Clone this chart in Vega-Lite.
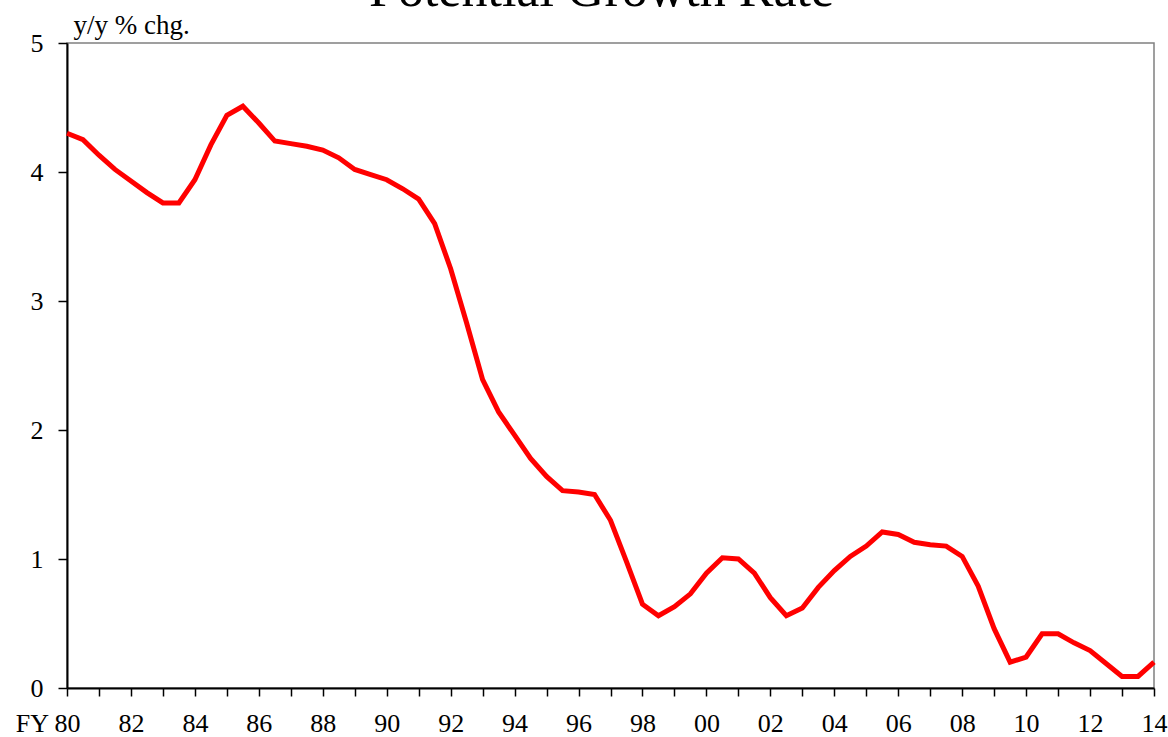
{
  "$schema": "https://vega.github.io/schema/vega-lite/v6.json",
  "width": 1087,
  "height": 645,
  "autosize": {"type": "none"},
  "padding": {"left": 67, "top": 43, "right": 14, "bottom": 49},
  "background": "white",
  "title": {
    "text": "Potential Growth Rate",
    "font": "Liberation Serif",
    "fontSize": 52,
    "fontWeight": "normal",
    "color": "black",
    "anchor": "middle",
    "frame": "group",
    "baseline": "alphabetic",
    "offset": 0,
    "dx": -9,
    "dy": 47
  },
  "config": {
    "view": {"stroke": "#808080", "strokeWidth": 1.5},
    "axis": {
      "labelFont": "Liberation Serif",
      "titleFont": "Liberation Serif",
      "labelColor": "black",
      "titleColor": "black",
      "domainColor": "black",
      "tickColor": "black",
      "grid": false
    }
  },
  "data": {
    "values": [
      {"year": 1980.0, "value": 4.30},
      {"year": 1980.5, "value": 4.25},
      {"year": 1981.0, "value": 4.13},
      {"year": 1981.5, "value": 4.02},
      {"year": 1982.0, "value": 3.93},
      {"year": 1982.5, "value": 3.84},
      {"year": 1983.0, "value": 3.76},
      {"year": 1983.5, "value": 3.76},
      {"year": 1984.0, "value": 3.94},
      {"year": 1984.5, "value": 4.21},
      {"year": 1985.0, "value": 4.44},
      {"year": 1985.5, "value": 4.51},
      {"year": 1986.0, "value": 4.38},
      {"year": 1986.5, "value": 4.24},
      {"year": 1987.0, "value": 4.22},
      {"year": 1987.5, "value": 4.20},
      {"year": 1988.0, "value": 4.17},
      {"year": 1988.5, "value": 4.11},
      {"year": 1989.0, "value": 4.02},
      {"year": 1989.5, "value": 3.98},
      {"year": 1990.0, "value": 3.94},
      {"year": 1990.5, "value": 3.87},
      {"year": 1991.0, "value": 3.79},
      {"year": 1991.5, "value": 3.60},
      {"year": 1992.0, "value": 3.25},
      {"year": 1992.5, "value": 2.83},
      {"year": 1993.0, "value": 2.39},
      {"year": 1993.5, "value": 2.14},
      {"year": 1994.0, "value": 1.96},
      {"year": 1994.5, "value": 1.78},
      {"year": 1995.0, "value": 1.64},
      {"year": 1995.5, "value": 1.53},
      {"year": 1996.0, "value": 1.52},
      {"year": 1996.5, "value": 1.50},
      {"year": 1997.0, "value": 1.30},
      {"year": 1997.5, "value": 0.98},
      {"year": 1998.0, "value": 0.65},
      {"year": 1998.5, "value": 0.56},
      {"year": 1999.0, "value": 0.63},
      {"year": 1999.5, "value": 0.73},
      {"year": 2000.0, "value": 0.89},
      {"year": 2000.5, "value": 1.01},
      {"year": 2001.0, "value": 1.00},
      {"year": 2001.5, "value": 0.89},
      {"year": 2002.0, "value": 0.70},
      {"year": 2002.5, "value": 0.56},
      {"year": 2003.0, "value": 0.62},
      {"year": 2003.5, "value": 0.78},
      {"year": 2004.0, "value": 0.91},
      {"year": 2004.5, "value": 1.02},
      {"year": 2005.0, "value": 1.10},
      {"year": 2005.5, "value": 1.21},
      {"year": 2006.0, "value": 1.19},
      {"year": 2006.5, "value": 1.13},
      {"year": 2007.0, "value": 1.11},
      {"year": 2007.5, "value": 1.10},
      {"year": 2008.0, "value": 1.02},
      {"year": 2008.5, "value": 0.79},
      {"year": 2009.0, "value": 0.46},
      {"year": 2009.5, "value": 0.20},
      {"year": 2010.0, "value": 0.24},
      {"year": 2010.5, "value": 0.42},
      {"year": 2011.0, "value": 0.42},
      {"year": 2011.5, "value": 0.35},
      {"year": 2012.0, "value": 0.29},
      {"year": 2012.5, "value": 0.19},
      {"year": 2013.0, "value": 0.09},
      {"year": 2013.5, "value": 0.09},
      {"year": 2014.0, "value": 0.20}
    ]
  },
  "mark": {"type": "line", "color": "#FF0000", "strokeWidth": 5, "strokeJoin": "miter", "clip": false},
  "encoding": {
    "x": {
      "field": "year",
      "type": "quantitative",
      "scale": {"domain": [1980, 2014], "nice": false, "zero": false},
      "axis": {
        "title": null,
        "values": [1980,1981,1982,1983,1984,1985,1986,1987,1988,1989,1990,1991,1992,1993,1994,1995,1996,1997,1998,1999,2000,2001,2002,2003,2004,2005,2006,2007,2008,2009,2010,2011,2012,2013,2014],
        "labelExpr": "datum.value % 2 != 0 ? '' : (datum.value == 1980 ? 'FY 80' : substring(toString(datum.value), 2))",
        "labelAlign": {"condition": {"test": "datum.value == 1980", "value": "right"}, "value": "center"},
        "labelOffset": {"condition": {"test": "datum.value == 1980", "value": 13}, "value": 0},
        "labelFontSize": 26,
        "labelPadding": 14,
        "labelFlush": false,
        "labelOverlap": false,
        "labelBound": false,
        "tickSize": 8,
        "tickWidth": 1.5,
        "domainWidth": 2
      }
    },
    "y": {
      "field": "value",
      "type": "quantitative",
      "scale": {"domain": [0, 5], "nice": false, "zero": true},
      "axis": {
        "values": [0, 1, 2, 3, 4, 5],
        "title": "y/y % chg.",
        "titleAngle": 0,
        "titleAlign": "left",
        "titleBaseline": "alphabetic",
        "titleX": 6,
        "titleY": -10,
        "titleFontSize": 27,
        "titleFontWeight": "normal",
        "labelFontSize": 26,
        "labelPadding": 15,
        "tickSize": 9,
        "tickWidth": 1.5,
        "domainWidth": 2
      }
    }
  }
}
